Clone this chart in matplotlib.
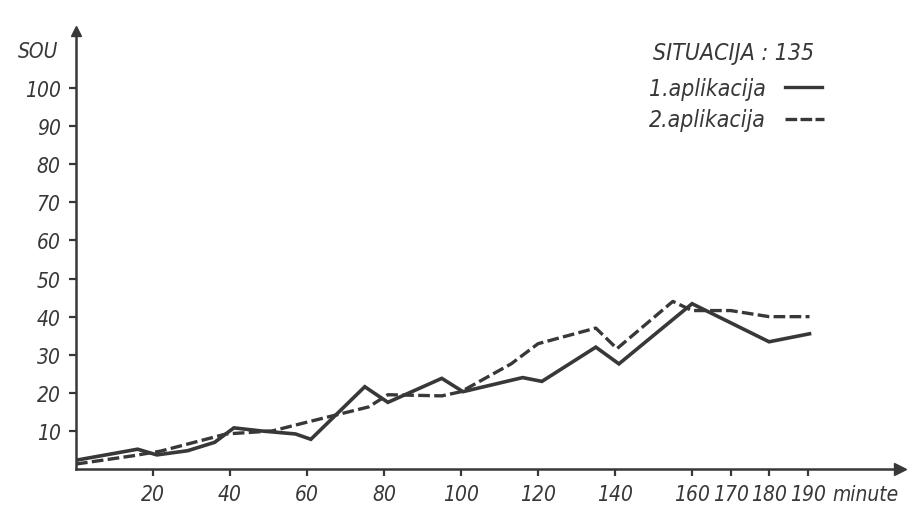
import matplotlib.pyplot as plt
from matplotlib.lines import Line2D

# SOU readings over time, two applications of situation 135
minutes_1 = [0, 16, 21, 29, 36, 41, 48, 57, 61, 75, 81, 95, 100.5, 116, 121, 135, 141, 160, 180, 190.5]
sou_1 = [2.3, 5.2, 3.7, 4.8, 7.0, 10.8, 10.0, 9.2, 7.8, 21.6, 17.5, 23.8, 20.3, 24.0, 23.0, 32.0, 27.6, 43.4, 33.4, 35.5]

minutes_2 = [0, 15, 22, 39, 51, 60, 76, 81, 95, 100, 113, 120, 135, 140.5, 155, 160, 170, 180, 190.5]
sou_2 = [1.3, 3.5, 4.7, 9.2, 10.0, 12.3, 16.3, 19.5, 19.2, 20.3, 27.6, 32.9, 37.0, 31.6, 44.0, 41.6, 41.6, 40.0, 40.0]

x_ticks = [20, 40, 60, 80, 100, 120, 140, 160, 170, 180, 190]
y_ticks = [10, 20, 30, 40, 50, 60, 70, 80, 90, 100]

INK = "#383838"
FONT = dict(family="DejaVu Sans", style="italic", stretch="condensed", color=INK, fontsize=15)
LEGEND_FONT = dict(FONT, fontsize=16.5)

fig = plt.figure(figsize=(9.08, 5.06), dpi=100)
ax = fig.add_axes([76 / 908, 36 / 506, 824 / 908, 438 / 506])
ax.set_xlim(0, 214)
ax.set_ylim(0, 115)

ax.plot(minutes_1, sou_1, color=INK, lw=2.6, solid_joinstyle="miter")
ax.plot(minutes_2, sou_2, color=INK, lw=2.4, linestyle=(0, (3.5, 1.3)))

for side in ("top", "right"):
    ax.spines[side].set_visible(False)
for side in ("left", "bottom"):
    ax.spines[side].set_color(INK)
    ax.spines[side].set_linewidth(1.8)

# arrow heads at the ends of both axes
ax.plot(1, 0, ">", color=INK, ms=9, transform=ax.transAxes, clip_on=False)
ax.plot(0, 1, "^", color=INK, ms=7, transform=ax.transAxes, clip_on=False)

ax.set_xticks(x_ticks)
ax.set_xticklabels([str(t) for t in x_ticks])
ax.set_yticks(y_ticks)
ax.set_yticklabels([str(t) for t in y_ticks])
ax.tick_params(axis="both", colors=INK, length=5, width=1.6, pad=6)
for lab in ax.get_xticklabels() + ax.get_yticklabels():
    lab.set(**FONT)

ax.text(-0.07, 0.955, "SOU", transform=ax.transAxes, ha="left", va="center", **FONT)
ax.text(0.918, -0.057, "minute", transform=ax.transAxes, ha="left", va="center", **FONT)

# legend drawn by hand, next to short line samples
ax.text(0.70, 0.952, "SITUACIJA : 135", transform=ax.transAxes, ha="left", va="center", **LEGEND_FONT)
ax.text(0.695, 0.868, "1.aplikacija", transform=ax.transAxes, ha="left", va="center", **LEGEND_FONT)
ax.text(0.695, 0.799, "2.aplikacija", transform=ax.transAxes, ha="left", va="center", **LEGEND_FONT)
ax.add_line(Line2D([0.86, 0.905], [0.872, 0.872], transform=ax.transAxes, color=INK, lw=2.4))
ax.add_line(Line2D([0.86, 0.908], [0.799, 0.799], transform=ax.transAxes, color=INK, lw=2.4,
                   linestyle=(0, (3.5, 1.0))))

fig.savefig("out.png", dpi=100)
